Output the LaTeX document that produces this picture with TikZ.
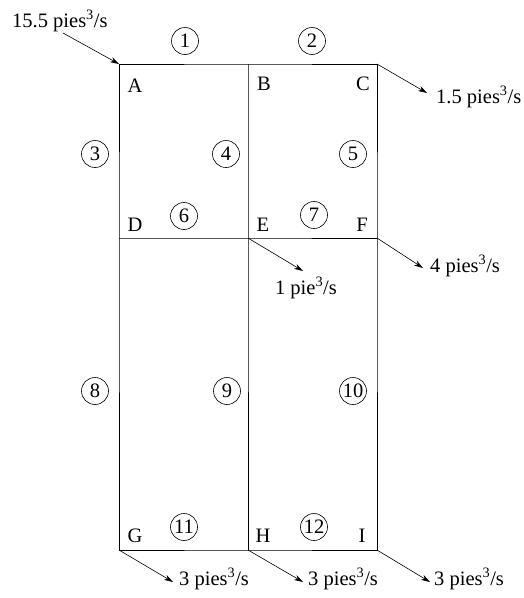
\documentclass[tikz,border=0pt]{standalone}
\usepackage{fontspec}
\setmainfont{Liberation Serif}
\usetikzlibrary{arrows.meta}
\begin{document}
\begin{tikzpicture}[x=1pt,y=-1pt,
  pipe/.style={line width=0.9pt},
  flow/.style={line width=0.6pt,-{Stealth[length=9pt,width=5.5pt]}},
  lbl/.style={font=\fontsize{20.5}{22}\selectfont,inner sep=0pt},
  num/.style={circle,draw,line width=0.6pt,inner sep=0pt,minimum size=27pt,font=\fontsize{20.5}{22}\selectfont},
  qty/.style={font=\fontsize{20.5}{22}\selectfont,inner sep=0pt,anchor=west}]
\useasboundingbox (0,0) rectangle (523,598);
% junction coordinates
\coordinate (A) at (119,64);
\coordinate (B) at (248,64);
\coordinate (C) at (377,64);
\coordinate (D) at (119,238);
\coordinate (E) at (248,238);
\coordinate (F) at (377,238);
\coordinate (G) at (119,550);
\coordinate (H) at (248,550);
\coordinate (I) at (377,550);
% pipes
\draw[pipe] (A) -- (B) -- (C) -- (F) -- (I) -- (H) -- (G) -- (D) -- (A);
\draw[pipe] (B) -- (E) -- (H);
\draw[pipe] (D) -- (E) -- (F);
% junction letters
\node[lbl] (lA) at (135,86) {A};
\node[lbl] (lB) at (264,84) {B};
\node[lbl] (lC) at (363,84) {C};
\node[lbl] (lD) at (135,225) {D};
\node[lbl] (lE) at (263,225) {E};
\node[lbl] (lF) at (362,225) {F};
\node[lbl] (lG) at (135,536) {G};
\node[lbl] (lH) at (263,536) {H};
\node[lbl] (lI) at (362,536) {I};
% pipe numbers
\node[num] (n1) at (185,41) {1};
\node[num] (n2) at (312,41) {2};
\node[num] (n3) at (95,154) {3};
\node[num] (n4) at (226,154) {4};
\node[num] (n5) at (353,154) {5};
\node[num] (n6) at (184,216) {6};
\node[num] (n7) at (314,215) {7};
\node[num] (n8) at (95,391) {8};
\node[num] (n9) at (227,391) {9};
\node[num] (n10) at (353,391) {10};
\node[num] (n11) at (184,527) {11};
\node[num] (n12) at (314,527) {12};
% flows
\node[qty] (qin) at (12,21) {15.5 pies\textsuperscript{3}/s};
\coordinate (sin) at (63,33);
\draw[flow] (sin) -- (A);
\coordinate (tC) at (427,93);
\node[qty] (qC) at (436,97) {1.5 pies\textsuperscript{3}/s};
\draw[flow] (C) -- (tC);
\coordinate (tE) at (303,271);
\node[lbl] (qE) at (306,288) {1 pie\textsuperscript{3}/s};
\draw[flow] (E) -- (tE);
\coordinate (tF) at (423,268);
\node[qty] (qF) at (430,266) {4 pies\textsuperscript{3}/s};
\draw[flow] (F) -- (tF);
\coordinate (tG) at (173,582);
\node[qty] (qG) at (179,579) {3 pies\textsuperscript{3}/s};
\draw[flow] (G) -- (tG);
\coordinate (tH) at (303,582);
\node[qty] (qH) at (308,579) {3 pies\textsuperscript{3}/s};
\draw[flow] (H) -- (tH);
\coordinate (tI) at (430,582);
\node[qty] (qI) at (434,579) {3 pies\textsuperscript{3}/s};
\draw[flow] (I) -- (tI);
\end{tikzpicture}
\end{document}
